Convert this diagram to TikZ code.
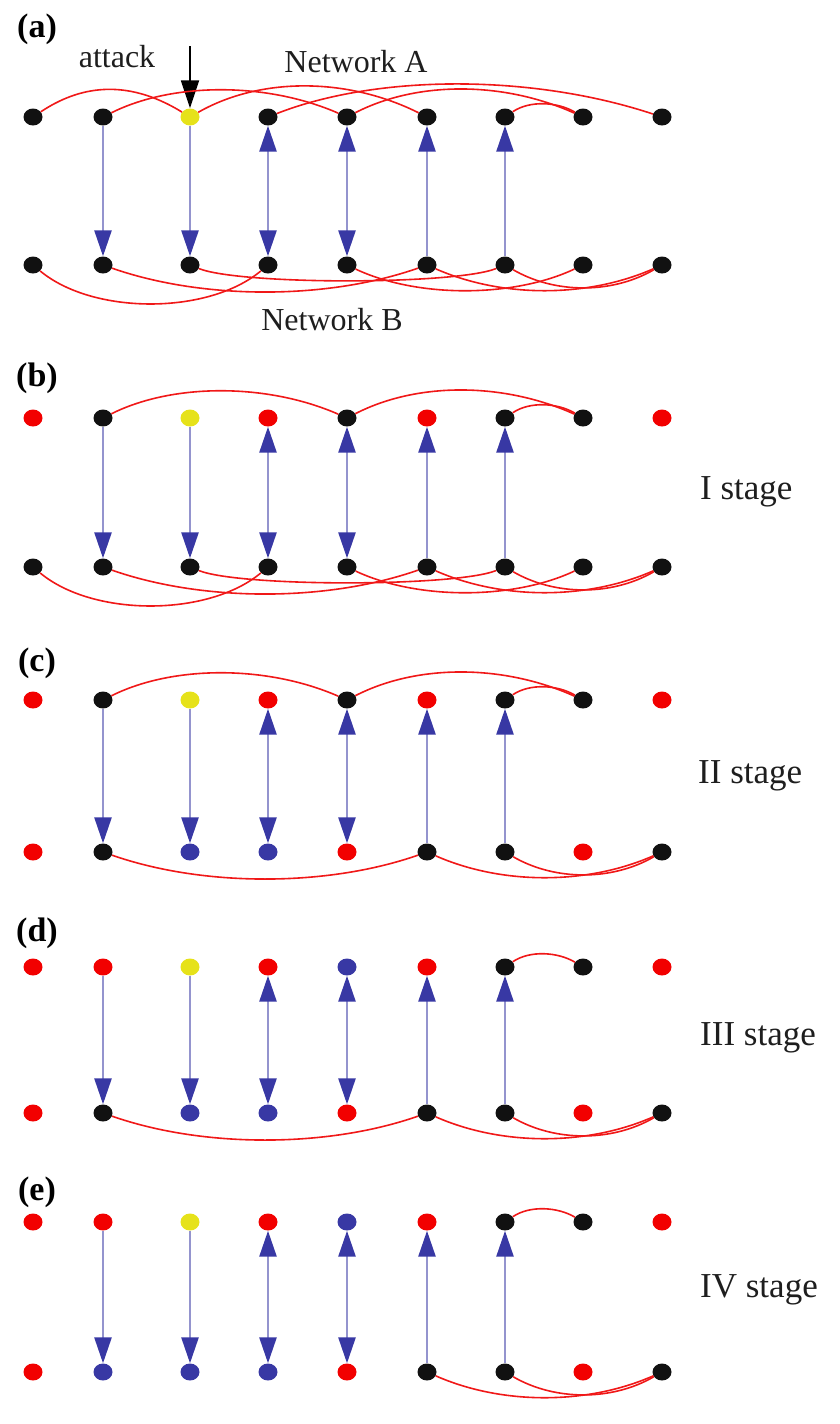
\documentclass[tikz,border=0pt]{standalone}
\usepackage{fontspec}
\setmainfont{Liberation Serif}
\usetikzlibrary{arrows.meta,shapes.geometric}
\definecolor{cK}{HTML}{111111}
\definecolor{cY}{HTML}{E6E21A}
\definecolor{cR}{HTML}{F20000}
\definecolor{cU}{HTML}{3838A4}
\definecolor{depline}{HTML}{9494CE}
\definecolor{edgered}{HTML}{F01818}
\definecolor{txt}{HTML}{1E1E1E}

% one row of nine dots: name prefix, y position, list of colour codes
\newcommand{\dotrow}[3]{%
  \foreach \c [count=\i] in {#3}{%
    \pgfmathsetmacro{\xx}{{33,103,190,268,347,427,505,583,662}[\i-1]}%
    \node[dot,fill=c\c] (#1\i) at (\xx,#2) {};
  }%
}
% dependency links between the two networks of one panel
\newcommand{\deplinks}[2]{%
  \draw[dep,->] (#12) -- (#22);
  \draw[dep,->] (#13) -- (#23);
  \draw[dep,<->] (#14) -- (#24);
  \draw[dep,<->] (#15) -- (#25);
  \draw[dep,<-] (#16) -- (#26);
  \draw[dep,<-] (#17) -- (#27);
}

\begin{document}
\begin{tikzpicture}[x=1pt,y=-1pt,
  dot/.style={ellipse,minimum width=19pt,minimum height=17pt,inner sep=0pt,draw=none},
  edge/.style={draw=edgered,line width=1.6pt},
  dep/.style={draw=depline,line width=2.6pt,>={Triangle[length=26pt,width=17pt,color=cU]}},
  lab/.style={text=txt,font=\fontsize{32}{36}\selectfont,inner sep=0pt},
  panel/.style={text=black,font=\fontsize{34}{38}\selectfont\bfseries,inner sep=0pt},
  stage/.style={text=txt,font=\fontsize{35}{40}\selectfont,inner sep=0pt,anchor=west}
]
\useasboundingbox (0,0) rectangle (840,1424);

% ---------------- (a) ----------------
\node[panel] (pa) at (37,29) {(a)};
\node[lab] (latk) at (117,57) {attack};
\node[lab] (lneta) at (356,62) {Network A};
\node[lab] (lnetb) at (332,320) {Network B};
\dotrow{A}{117}{K,K,Y,K,K,K,K,K,K}
\dotrow{B}{265}{K,K,K,K,K,K,K,K,K}
\coordinate (atk) at (190,46);
\draw[line width=1.8pt,-{Triangle[length=28pt,width=18pt]}] (atk) -- (A3);
% network A links
\draw[edge] (A1) .. controls +(45,-30) and +(-65,-40) .. (A3);
\draw[edge] (A2) .. controls +(70,-35) and +(-80,-35) .. (A5);
\draw[edge] (A3) .. controls +(70,-40) and +(-80,-40) .. (A6);
\draw[edge] (A4) .. controls +(110,-43) and +(-130,-43) .. (A9);
\draw[edge] (A5) .. controls +(70,-36) and +(-80,-36) .. (A8);
\draw[edge] (A7) .. controls +(25,-17) and +(-25,-15) .. (A8);
% network B links
\draw[edge] (B1) .. controls +(60,50) and +(-60,50) .. (B4);
\draw[edge] (B2) .. controls +(100,35) and +(-100,35) .. (B6);
\draw[edge] (B3) .. controls +(50,20) and +(-50,20) .. (B7);
\draw[edge] (B5) .. controls +(70,33) and +(-70,33) .. (B8);
\draw[edge] (B6) .. controls +(75,33) and +(-75,33) .. (B9);
\draw[edge] (B7) .. controls +(50,29) and +(-50,29) .. (B9);
\deplinks{A}{B}

% ---------------- (b) ----------------
\node[panel] (pb) at (37,378) {(b)};
\node[stage] (s1) at (700,492) {I stage};
\dotrow{C}{418}{R,K,Y,R,K,R,K,K,R}
\dotrow{D}{567}{K,K,K,K,K,K,K,K,K}
\draw[edge] (C2) .. controls +(70,-35) and +(-80,-35) .. (C5);
\draw[edge] (C5) .. controls +(70,-36) and +(-80,-36) .. (C8);
\draw[edge] (C7) .. controls +(25,-17) and +(-25,-15) .. (C8);
\draw[edge] (D1) .. controls +(60,50) and +(-60,50) .. (D4);
\draw[edge] (D2) .. controls +(100,35) and +(-100,35) .. (D6);
\draw[edge] (D3) .. controls +(50,20) and +(-50,20) .. (D7);
\draw[edge] (D5) .. controls +(70,33) and +(-70,33) .. (D8);
\draw[edge] (D6) .. controls +(75,33) and +(-75,33) .. (D9);
\draw[edge] (D7) .. controls +(50,29) and +(-50,29) .. (D9);
\deplinks{C}{D}

% ---------------- (c) ----------------
\node[panel] (pc) at (37,663) {(c)};
\node[stage] (s2) at (698,776) {II stage};
\dotrow{E}{700}{R,K,Y,R,K,R,K,K,R}
\dotrow{F}{852}{R,K,U,U,R,K,K,R,K}
\draw[edge] (E2) .. controls +(70,-35) and +(-80,-35) .. (E5);
\draw[edge] (E5) .. controls +(70,-36) and +(-80,-36) .. (E8);
\draw[edge] (E7) .. controls +(25,-17) and +(-25,-15) .. (E8);
\draw[edge] (F2) .. controls +(100,35) and +(-100,35) .. (F6);
\draw[edge] (F6) .. controls +(75,33) and +(-75,33) .. (F9);
\draw[edge] (F7) .. controls +(50,29) and +(-50,29) .. (F9);
\deplinks{E}{F}

% ---------------- (d) ----------------
\node[panel] (pd) at (37,933) {(d)};
\node[stage] (s3) at (700,1038) {III stage};
\dotrow{G}{967}{R,R,Y,R,U,R,K,K,R}
\dotrow{H}{1113}{R,K,U,U,R,K,K,R,K}
\draw[edge] (G7) .. controls +(25,-17) and +(-25,-15) .. (G8);
\draw[edge] (H2) .. controls +(100,35) and +(-100,35) .. (H6);
\draw[edge] (H6) .. controls +(75,33) and +(-75,33) .. (H9);
\draw[edge] (H7) .. controls +(50,29) and +(-50,29) .. (H9);
\deplinks{G}{H}

% ---------------- (e) ----------------
\node[panel] (pe) at (37,1192) {(e)};
\node[stage] (s4) at (700,1290) {IV stage};
\dotrow{I}{1222}{R,R,Y,R,U,R,K,K,R}
\dotrow{J}{1372}{R,U,U,U,R,K,K,R,K}
\draw[edge] (I7) .. controls +(25,-17) and +(-25,-15) .. (I8);
\draw[edge] (J6) .. controls +(75,33) and +(-75,33) .. (J9);
\draw[edge] (J7) .. controls +(50,29) and +(-50,29) .. (J9);
\deplinks{I}{J}
\end{tikzpicture}
\end{document}
